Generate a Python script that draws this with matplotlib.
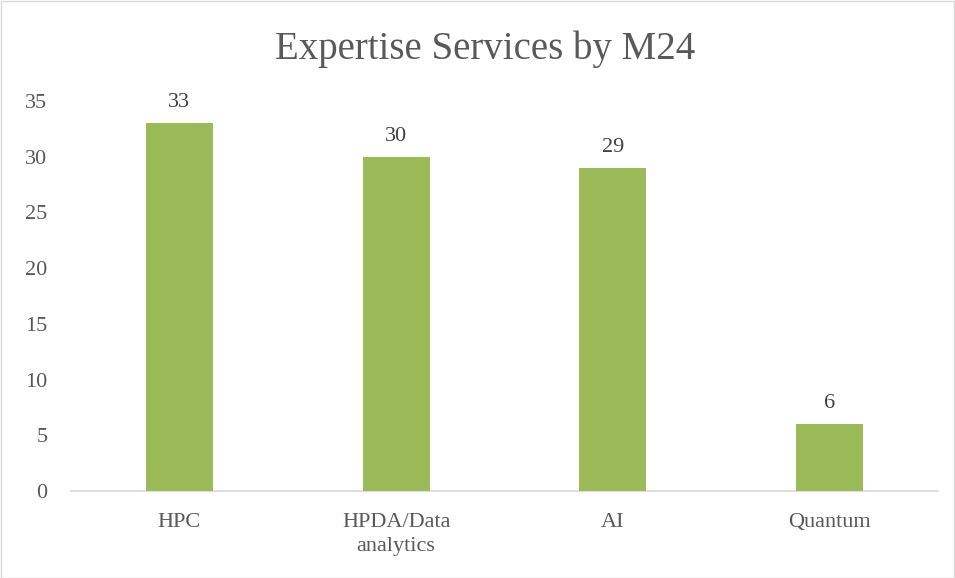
import matplotlib
matplotlib.use("Agg")
import matplotlib.pyplot as plt
from matplotlib.patches import Rectangle

categorias = ["HPC", "HPDA/Data\nanalytics", "AI", "Quantum"]
valores = [33, 30, 29, 6]
ticks_y = [0, 5, 10, 15, 20, 25, 30, 35]

COLOR_BARRA = "#9BBB59"
COLOR_TEXTO = "#595959"
COLOR_EJE = "#D9D9D9"

plt.rcParams["font.family"] = ["Liberation Serif", "DejaVu Serif"]

fig = plt.figure(figsize=(9.55, 5.78), dpi=100)
ax = fig.add_axes([71 / 955, 1 - 491 / 578, 867 / 955, 390 / 578])

xs = list(range(len(categorias)))
ax.bar(xs, valores, width=0.31, color=COLOR_BARRA, zorder=3)
for x, v in zip(xs, valores):
    ax.annotate(str(v), (x, v), textcoords="offset points", xytext=(0, 8),
                ha="center", va="bottom", fontsize=16, color="#404040")

ax.set_xlim(-0.5, len(categorias) - 0.5)
ax.set_ylim(0, 35)
ax.set_yticks(ticks_y)
ax.set_xticks(xs)
ax.set_xticklabels(categorias, linespacing=1.35)
ax.tick_params(axis="both", length=0, labelsize=16, colors=COLOR_TEXTO)
ax.tick_params(axis="y", pad=17)
ax.tick_params(axis="x", pad=16)
for lado in ("top", "right", "left"):
    ax.spines[lado].set_visible(False)
ax.spines["bottom"].set_color(COLOR_EJE)
ax.spines["bottom"].set_linewidth(1.2)

fig.text(485 / 955, 1 - 49 / 578, "Expertise Services by M24", ha="center",
         va="center", fontsize=28, color=COLOR_TEXTO)

fig.patches.append(Rectangle((0.5 / 955, 0.5 / 578), 1 - 1.5 / 955, 1 - 1.5 / 578,
                             transform=fig.transFigure, fill=False,
                             edgecolor=COLOR_EJE, linewidth=1))

fig.savefig("out.png")
